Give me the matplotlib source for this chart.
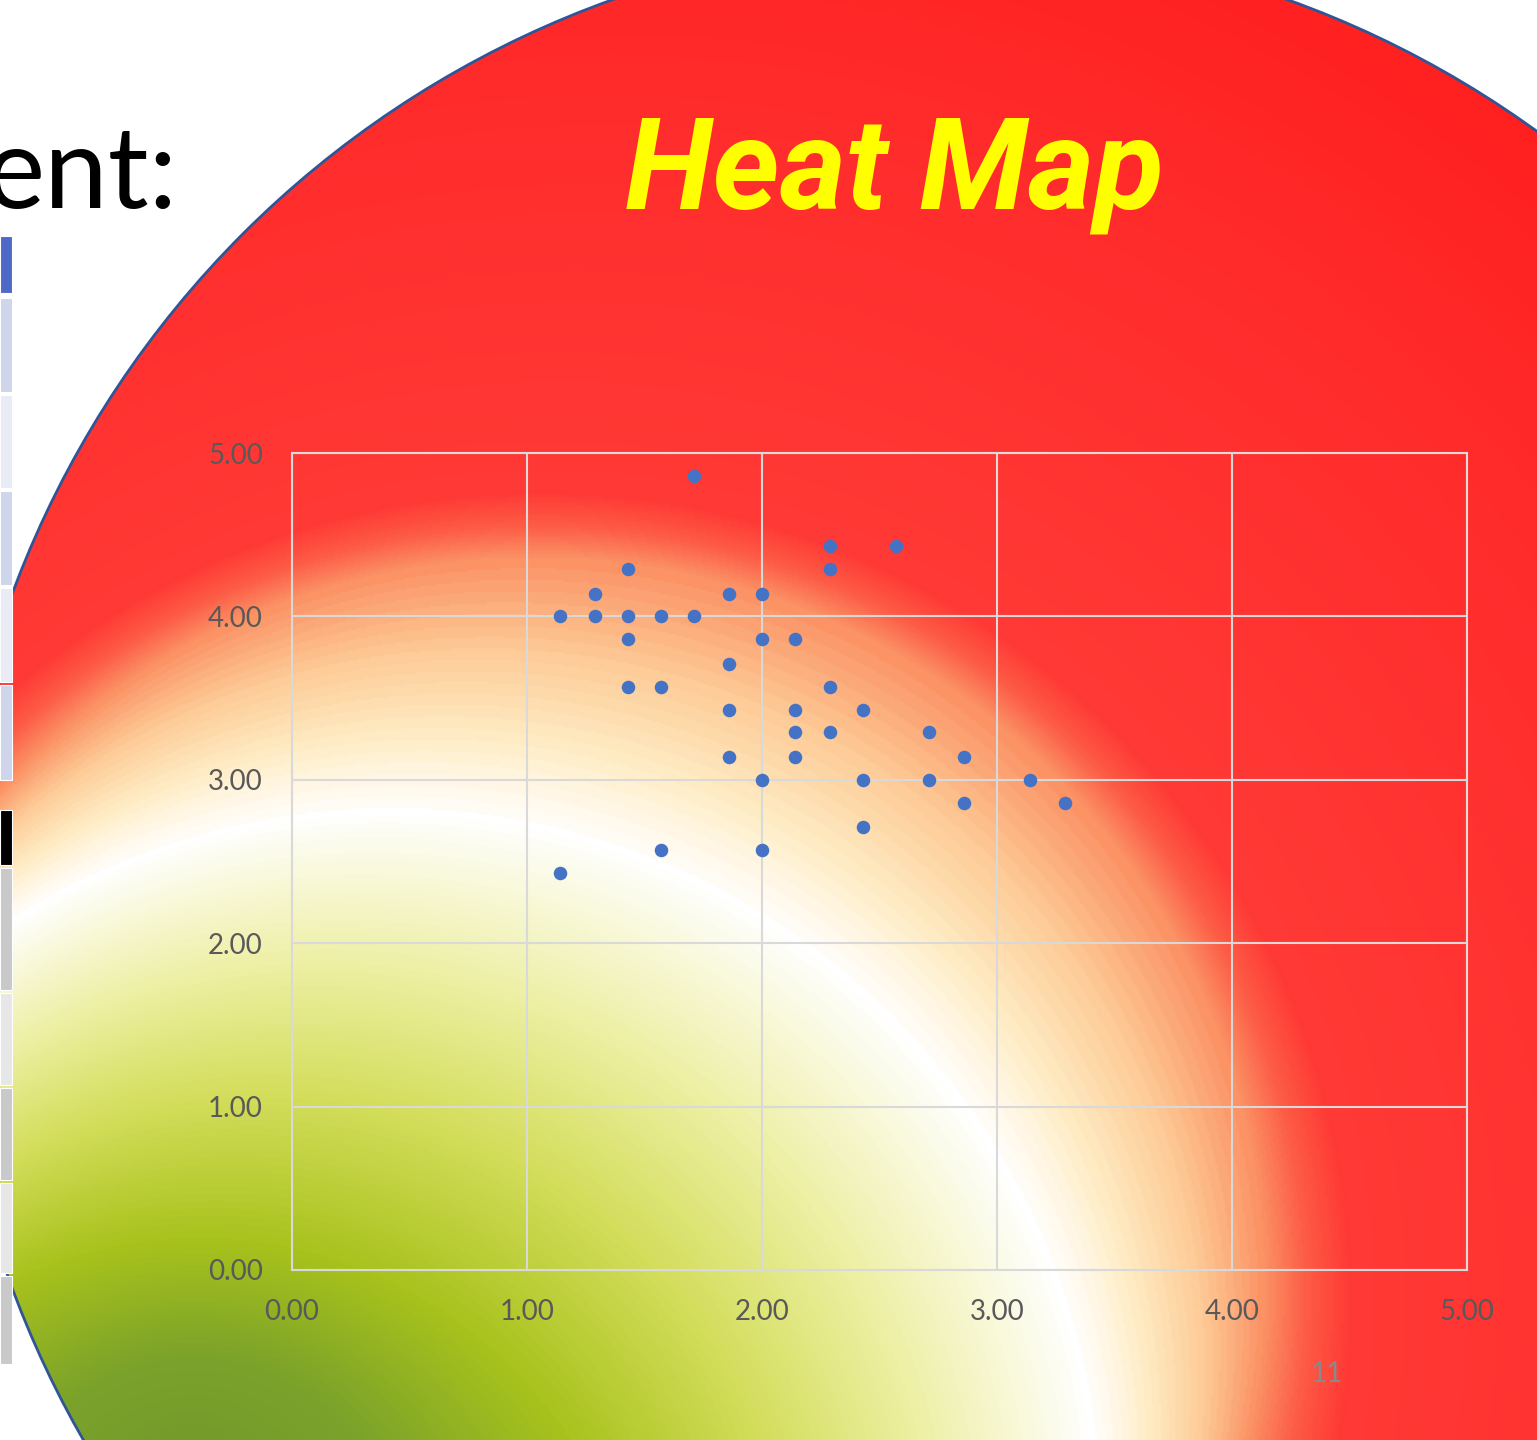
import numpy as np
import matplotlib
matplotlib.use("Agg")
import matplotlib.pyplot as plt
from matplotlib.patches import Circle, Rectangle

# scatter data
xs = [1.14, 1.14, 1.29, 1.29, 1.43, 1.43, 1.43, 1.43, 1.57, 1.57, 1.57, 1.71, 1.71,
      1.86, 1.86, 1.86, 1.86, 2.00, 2.00, 2.00, 2.00, 2.14, 2.14, 2.14, 2.14,
      2.29, 2.29, 2.29, 2.29, 2.43, 2.43, 2.43, 2.57, 2.71, 2.71, 2.86, 2.86, 3.14, 3.29]
ys = [4.00, 2.43, 4.14, 4.00, 4.29, 4.00, 3.86, 3.57, 4.00, 3.57, 2.57, 4.86, 4.00,
      4.14, 3.71, 3.43, 3.14, 4.14, 3.86, 3.00, 2.57, 3.86, 3.43, 3.29, 3.14,
      4.43, 4.29, 3.57, 3.29, 3.43, 3.00, 2.71, 4.43, 3.29, 3.00, 3.14, 2.86, 3.00, 2.86]
ticks = [0, 1, 2, 3, 4, 5]
tick_labels = ["0.00", "1.00", "2.00", "3.00", "4.00", "5.00"]

# heat gradient: colour stops along the gradient parameter t
grad_stops = [0.0, 0.2, 0.42, 0.62, 0.8, 0.92, 1.0, 1.07, 1.14, 1.22, 1.31, 1.40, 1.8, 2.3]
grad_colors = ['#739a2c', '#7ba22a', '#a8c21c', '#d4de5c', '#eef0a6', '#f9f9dc', '#ffffff',
               '#ffecc4', '#fdcc98', '#fb9466', '#fd5c46', '#ff3a36', '#ff2c2c', '#ff1616']
# contour circles (pixel space) at a few values of t, linearly blended between
key_t = [0.0, 0.42, 1.0, 1.22, 1.40, 2.4]
key_cx = [190, 200, 392, 535, 541, 700]
key_cy = [1460, 1680, 1518, 1288, 1303, 1200]
key_rad = [0, 442, 710, 731, 812, 1700]

# slide table fragment on the left edge
cell_rows = [(236, 293, '#4f69c6'), (298, 392, '#cfd5ea'), (395, 488, '#e9ebf5'),
             (491, 585, '#cfd5ea'), (588, 682, '#e9ebf5'), (685, 780, '#cfd5ea'),
             (810, 865, '#000000'), (868, 990, '#c9c9c9'), (993, 1085, '#e7e7e7'),
             (1088, 1180, '#c9c9c9'), (1183, 1273, '#e7e7e7'), (1276, 1364, '#c9c9c9')]

W, H = 1537, 1440
fig = plt.figure(figsize=(W / 100, H / 100), dpi=100)
fig.patch.set_facecolor("white")

bg = fig.add_axes([0, 0, 1, 1])
bg.set_xlim(0, W)
bg.set_ylim(H, 0)
bg.axis("off")

# gradient at half resolution: each pixel gets the smallest t whose circle holds it
step = 2
yy, xx = np.mgrid[0:H:step, 0:W:step].astype(np.float32) + step / 2
t_map = np.full(xx.shape, 3.0, dtype=np.float32)
for t in np.linspace(3.0, 0.0, 301):
    cx = np.interp(t, key_t, key_cx)
    cy = np.interp(t, key_t, key_cy)
    rad = np.interp(t, key_t, key_rad)
    inside = (xx - cx) ** 2 + (yy - cy) ** 2 <= rad ** 2
    t_map[inside] = t
rgb = np.array([matplotlib.colors.to_rgb(c) for c in grad_colors])
img = np.dstack([np.interp(t_map, grad_stops, rgb[:, k]) for k in range(3)])

circ = Circle((950, 941), 1000, fc="none", ec="#2f5597", lw=2, transform=bg.transData)
im = bg.imshow(img, extent=(0, W, H, 0), interpolation="bilinear", zorder=1)
bg.add_patch(circ)
circ.set_zorder(2)
im.set_clip_path(circ)

for y0, y1, col in cell_rows:
    bg.add_patch(Rectangle((0, y0), 12, y1 - y0, fc=col, ec="white", lw=0.8, zorder=3))

bg.text(177, 208, "ent:", fontsize=82, family="Lato", color="black",
        ha="right", va="baseline", zorder=4)
bg.text(625, 208, "Heat Map", fontsize=92, family="Roboto", weight="bold",
        style="italic", color="#ffff00", ha="left", va="baseline", zorder=4)
bg.text(1327, 1374, "11", fontsize=20, family="Lato", color="#8a8a8a",
        ha="center", va="center", zorder=4)

# scatter chart
ax = fig.add_axes([292 / W, (H - 1270) / H, (1467 - 292) / W, (1270 - 453) / H])
ax.patch.set_alpha(0)
ax.scatter(xs, ys, s=95, color="#4472c4", linewidths=0, zorder=3)
ax.set_xlim(0, 5)
ax.set_ylim(0, 5)
ax.set_xticks(ticks)
ax.set_yticks(ticks)
ax.set_xticklabels(tick_labels)
ax.set_yticklabels(tick_labels)
ax.grid(True, color="#d9d9d9", lw=1.5)
ax.set_axisbelow(True)
for s in ax.spines.values():
    s.set_color("#d9d9d9")
    s.set_linewidth(1.5)
ax.tick_params(length=0, labelsize=20, labelcolor="#595959", pad=21)
for lab in ax.get_xticklabels() + ax.get_yticklabels():
    lab.set_family("Lato")

fig.savefig("out.png", dpi=100)
